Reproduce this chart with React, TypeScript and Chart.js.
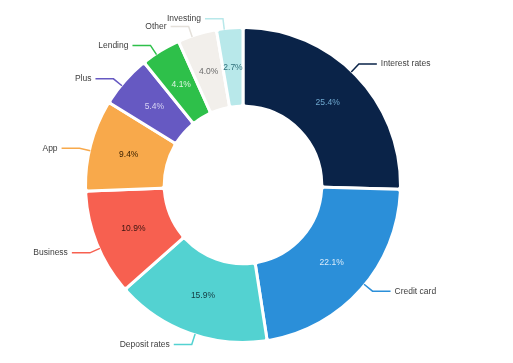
import React, { useEffect, useRef } from "react";
import { Chart, registerables } from "chart.js";

Chart.register(...registerables);

const categories = [
  "Interest rates",
  "Credit card",
  "Deposit rates",
  "Business",
  "App",
  "Plus",
  "Lending",
  "Other",
  "Investing",
];
const shares = [25.4, 22.1, 15.9, 10.9, 9.4, 5.4, 4.1, 4.0, 2.7];
const sliceColors = [
  "#0a2348",
  "#2b8fd9",
  "#53d2d1",
  "#f76050",
  "#f8a94b",
  "#6659c2",
  "#2ec04a",
  "#f2efeb",
  "#b8e8ea",
];
const valueLabelColors = [
  "#6fa8cf",
  "#dcecfa",
  "#143a40",
  "#3a1410",
  "#3d2200",
  "#d8d4f4",
  "#dcf5e1",
  "#6b6b6b",
  "#2f6f7a",
];
const connectorColors = [
  "#0a2348",
  "#2b8fd9",
  "#53d2d1",
  "#f76050",
  "#f8a94b",
  "#6659c2",
  "#2ec04a",
  "#e4e0da",
  "#b8e8ea",
];

const FONT = '"Liberation Sans", Arial, Helvetica, sans-serif';

const labelPlugin = {
  id: "sliceLabels",
  afterDatasetsDraw(chart: any) {
    const ctx = chart.ctx;
    const meta = chart.getDatasetMeta(0);
    ctx.save();
    meta.data.forEach((arc: any, i: number) => {
      const { x, y, startAngle, endAngle, innerRadius, outerRadius } = arc.getProps(
        ["x", "y", "startAngle", "endAngle", "innerRadius", "outerRadius"],
        true
      );
      const mid = (startAngle + endAngle) / 2;
      const c = Math.cos(mid);
      const s = Math.sin(mid);
      // value label
      const rm = (innerRadius + outerRadius) / 2;
      ctx.font = `8.5px ${FONT}`;
      ctx.fillStyle = valueLabelColors[i];
      ctx.textAlign = "center";
      ctx.textBaseline = "middle";
      ctx.fillText(shares[i].toFixed(1) + "%", x + c * rm, y + s * rm);
      // connector (label angle slightly shifted, as in the original layout)
      const la = mid - 0.035;
      const lc = Math.cos(la);
      const ls = Math.sin(la);
      const ax = x + lc * (outerRadius - 1);
      const ay = y + ls * (outerRadius - 1);
      const ex = x + lc * (outerRadius + 10);
      const ey = y + ls * (outerRadius + 10);
      const dir = lc >= 0 ? 1 : -1;
      const hx = ex + dir * 18;
      ctx.strokeStyle = connectorColors[i];
      ctx.lineWidth = 1.5;
      ctx.beginPath();
      ctx.moveTo(ax, ay);
      ctx.lineTo(ex, ey);
      ctx.lineTo(hx, ey);
      ctx.stroke();
      ctx.fillStyle = "#404040";
      ctx.textAlign = dir > 0 ? "left" : "right";
      ctx.fillText(categories[i], hx + dir * 4, ey);
    });
    ctx.restore();
  },
};

export default function App() {
  const ref = useRef<HTMLCanvasElement | null>(null);
  useEffect(() => {
    if (!ref.current) return;
    const chart = new Chart(ref.current, {
      type: "doughnut",
      data: {
        labels: categories,
        datasets: [
          {
            data: shares,
            backgroundColor: sliceColors,
            borderColor: "#ffffff",
            borderWidth: 3,
            borderRadius: 3,
          },
        ],
      },
      options: {
        responsive: true,
        maintainAspectRatio: false,
        animation: false,
        cutout: "50%",
        layout: { padding: { left: 84, right: 111, top: 26, bottom: 19 } },
        plugins: {
          legend: { display: false },
          tooltip: { enabled: false },
        },
      },
      plugins: [labelPlugin],
    });
    return () => chart.destroy();
  }, []);
  return (
    <div style={{ position: "fixed", left: 0, top: 0, width: 513, height: 363, background: "#fff" }}>
      <canvas ref={ref} />
    </div>
  );
}
